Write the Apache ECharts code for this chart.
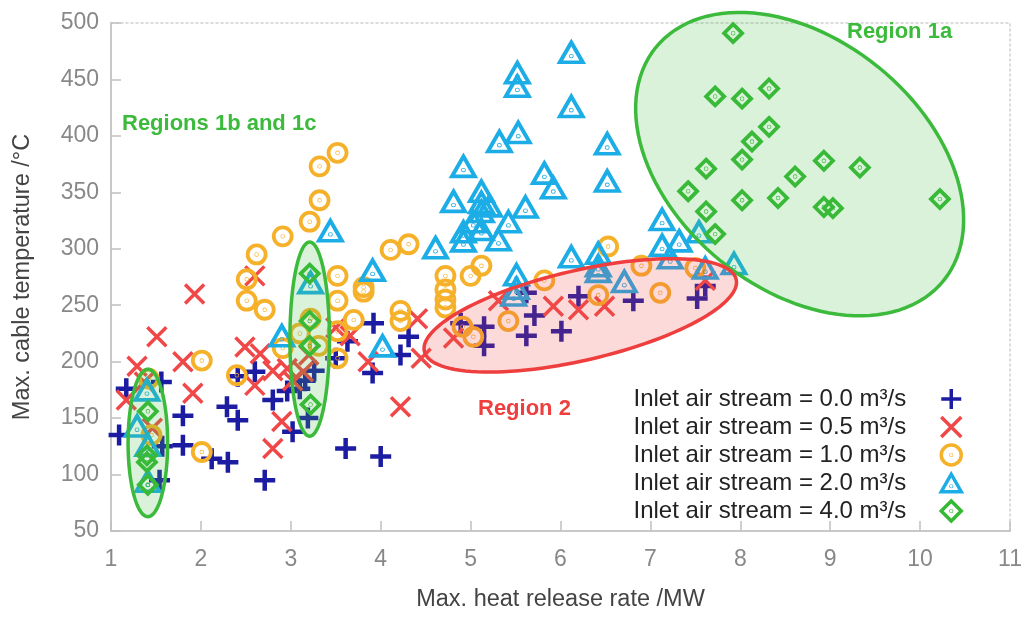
<!DOCTYPE html>
<html>
<head>
<meta charset="utf-8">
<script src="https://cdn.jsdelivr.net/npm/echarts@6/dist/echarts.min.js"></script>
<style>
  html, body { margin: 0; padding: 0; background: #fff; }
  #chart { width: 1025px; height: 617px; }
</style>
</head>
<body>
<div id="chart"></div>
<script>
// Max. heat release rate (MW), max. cable temperature (°C), per inlet air stream
const air00 = [[1.09,135],[1.17,176],[1.56,182],[1.57,125],[1.8,152],[1.8,126],[1.54,95],[2.12,114],[2.3,111],
  [2.29,160],[2.41,148],[2.41,187],[2.6,191],[2.71,95],[2.8,166],[2.96,174],[3.02,138],[3.92,234],[4.31,222],
  [4.22,206],[3.91,190],[3.16,183],[3.19,150],[3.5,203],[3.63,218],[3.61,123],[4.0,116],[4.89,234],[5.15,231],
  [5.15,214],[5.62,223],[5.71,241],[6.01,227],[6.2,258],[6.81,254],[7.52,256],[7.61,267],[5.62,261],[3.26,192],[3.1,176]];
const air05 = [[1.51,222],[1.29,196],[1.8,200],[1.91,172],[1.17,166],[1.46,141],[1.37,182],[2.49,213],[2.66,207],
  [2.6,179],[2.9,147],[2.8,123],[2.8,192],[3.02,183],[1.93,260],[2.6,276],[2.96,194],[3.14,191],[3.2,206],[3.5,230],
  [3.66,223],[3.86,200],[4.41,238],[4.45,203],[4.22,160],[4.81,221],[5.31,254],[5.92,249],[6.2,246],[6.49,249],[7.61,272]];
const air10 = [[3.52,385],[3.32,373],[3.32,343],[3.21,324],[2.91,311],[2.62,295],[2.51,273],[2.51,254],[2.71,246],
  [2.01,201],[2.01,120],[2.4,188],[3.52,276],[3.52,254],[3.81,262],[3.81,266],[4.11,299],[4.31,304],[3.7,237],
  [3.52,227],[3.52,203],[4.22,245],[4.22,236],[2.91,212],[3.1,225],[3.22,238],[3.31,214],[4.72,276],[4.72,264],
  [4.72,255],[4.72,248],[5.0,276],[5.12,285],[4.91,231],[5.03,222],[5.42,236],[5.82,272],[6.53,302],[6.9,285],
  [6.42,259],[7.11,261],[7.5,283],[1.45,135],[1.42,185]];
const air20 = [[6.12,474],[6.12,426],[5.52,456],[5.52,444],[5.53,403],[5.32,395],[6.52,393],[6.52,360],[4.92,373],
  [5.82,367],[5.92,354],[4.81,342],[5.12,351],[5.12,341],[5.21,338],[5.61,337],[5.42,324],[5.12,333],[5.03,324],
  [5.12,317],[4.92,315],[4.92,307],[5.31,308],[4.61,301],[6.12,293],[6.42,296],[6.42,285],[6.42,280],[6.71,271],
  [5.51,277],[5.51,265],[3.44,316],[3.91,281],[4.02,214],[3.22,270],[2.9,223],[1.4,175],[1.29,143],[1.41,126],
  [1.41,94],[7.13,326],[7.13,303],[7.32,307],[7.54,315],[7.22,292],[7.61,283],[7.93,287],[5.48,259]];
const air40 = [[7.92,491],[7.72,435],[8.02,433],[8.32,442],[8.32,408],[8.13,395],[8.02,379],[7.62,371],[7.42,351],
  [7.62,333],[8.02,343],[8.42,345],[8.61,364],[8.93,378],[9.33,372],[8.93,337],[9.03,336],[10.22,344],[7.72,313],
  [1.41,156],[1.4,117],[1.4,111],[1.41,91],[3.21,278],[3.21,236],[3.21,214],[3.22,162]];

const seriesNames = [
  'Inlet air stream = 0.0 m³/s',
  'Inlet air stream = 0.5 m³/s',
  'Inlet air stream = 1.0 m³/s',
  'Inlet air stream = 2.0 m³/s',
  'Inlet air stream = 4.0 m³/s'
];
const xTicks = [1, 2, 3, 4, 5, 6, 7, 8, 9, 10, 11];
const yTicks = [50, 100, 150, 200, 250, 300, 350, 400, 450, 500];

// regions: centre (MW, °C), semi-axes (in MW-scale units), tilt (deg)
const regionCentres = [[8.66, 375], [6.22, 241], [1.41, 128], [3.21, 220]];
const regionAxes = [[2.06, 1.39], [1.78, 0.5], [0.82, 0.22], [1.08, 0.22]];
const regionTilt = [39, -13, 90, 90];

const GREEN = '#3cba3c';
const RED = '#ef3e3e';
const narrow = "'Liberation Sans Narrow', 'Liberation Sans', Arial, sans-serif";
const sans = "'Liberation Sans', Arial, sans-serif";

const dot = 'M0.35,0A0.35,0.35,0,1,1,-0.35,0A0.35,0.35,0,1,1,0.35,0Z';
const triDot = 'M0.35,2A0.35,0.35,0,1,1,-0.35,2A0.35,0.35,0,1,1,0.35,2Z';
const symbols = [
  'path://M0,-10L0,10M-10,0L10,0',
  'path://M-10,-10L10,10M-10,10L10,-10',
  'path://M10,0A10,10,0,1,1,-10,0A10,10,0,1,1,10,0Z' + dot,
  'path://M0,-10L10,7.5L-10,7.5Z' + triDot,
  'path://M0,-10L10,0L0,10L-10,0Z' + dot
];
const colors = ['#1c1ca3', '#f04848', '#f6b12a', '#1cade6', '#35b935'];
const sizes = [21, 19, 18, [23, 20], 18];
const widths = [4.5, 3.5, 3.8, 3.8, 3.8];
const datasets = [air00, air05, air10, air20, air40];

const chart = echarts.init(document.getElementById('chart'));

function renderRegion(params, api) {
  const c = api.coord([api.value(0), api.value(1)]);
  const unit = api.size([1, 0])[0];
  const a = api.value(2) * unit;
  const b = api.value(3) * unit;
  const t = api.value(4) * Math.PI / 180;
  const pts = [];
  for (let i = 0; i < 120; i++) {
    const s = i / 120 * Math.PI * 2;
    const ex = a * Math.cos(s), ey = b * Math.sin(s);
    pts.push([c[0] + ex * Math.cos(t) - ey * Math.sin(t), c[1] + ex * Math.sin(t) + ey * Math.cos(t)]);
  }
  const red = params.dataIndex === 1;
  return {
    type: 'polygon',
    shape: { points: pts },
    style: {
      fill: red ? 'rgba(240,70,70,0.2)' : 'rgba(70,190,70,0.2)',
      stroke: red ? RED : GREEN,
      lineWidth: 3.5
    }
  };
}

const scatterSeries = datasets.map((d, i) => ({
  name: seriesNames[i],
  type: 'scatter',
  data: d,
  symbol: symbols[i],
  symbolSize: sizes[i],
  itemStyle: { color: 'rgba(0,0,0,0)', borderColor: colors[i], borderWidth: widths[i], opacity: 1 },
  silent: true,
  z: 3
}));

const option = {
  animation: false,
  backgroundColor: '#fff',
  grid: { left: 111, right: 15, top: 23, bottom: 84, containLabel: false },
  legend: {
    data: seriesNames,
    orient: 'vertical',
    right: 57,
    top: 382,
    align: 'right',
    itemWidth: 20,
    itemHeight: 20,
    itemGap: 4,
    itemStyle: { borderWidth: 3.5 },
    textStyle: { fontFamily: sans, fontSize: 24, lineHeight: 24, color: '#222', padding: [0, 30, 0, 0] }
  },
  xAxis: [{
    type: 'value', min: 1, max: 11, interval: 1,
    name: 'Max. heat release rate /MW', nameLocation: 'middle', nameGap: 57,
    nameTextStyle: { fontFamily: narrow, fontSize: 23.5, color: '#444' },
    axisLine: { lineStyle: { color: '#c8c8c8', width: 2 } },
    axisTick: { inside: true, length: 10, lineStyle: { color: '#c0c0c0', width: 1.5 } },
    axisLabel: { fontFamily: narrow, fontSize: 23, color: '#888', margin: 17,
      formatter: v => xTicks.includes(v) ? String(v) : '' },
    splitLine: { show: false }
  }, {
    type: 'value', position: 'top', min: 1, max: 11,
    axisLine: { show: true, lineStyle: { color: '#cfcfcf', width: 1.5, type: [2, 3] } },
    axisTick: { show: false }, axisLabel: { show: false }, splitLine: { show: false }
  }],
  yAxis: [{
    type: 'value', min: 50, max: 500, interval: 50,
    name: 'Max. cable temperature /°C', nameLocation: 'middle', nameGap: 76,
    nameTextStyle: { fontFamily: narrow, fontSize: 23.5, color: '#444' },
    axisLine: { show: true, lineStyle: { color: '#c8c8c8', width: 2 } },
    axisTick: { show: true, inside: true, length: 10, lineStyle: { color: '#c0c0c0', width: 1.5 } },
    axisLabel: { fontFamily: narrow, fontSize: 23, color: '#888', margin: 12,
      formatter: v => yTicks.includes(v) ? String(v) : '' },
    splitLine: { show: false }
  }, {
    type: 'value', position: 'right', min: 50, max: 500,
    axisLine: { show: true, lineStyle: { color: '#cfcfcf', width: 1.5, type: [2, 3] } },
    axisTick: { show: false }, axisLabel: { show: false }, splitLine: { show: false }
  }],
  graphic: [
    { type: 'text', left: 122, top: 113, z: 10,
      style: { text: 'Regions 1b and 1c', fontFamily: sans, fontWeight: 'bold', fontSize: 22, fill: GREEN } },
    { type: 'text', left: 847, top: 21, z: 10,
      style: { text: 'Region 1a', fontFamily: sans, fontWeight: 'bold', fontSize: 22, fill: GREEN } },
    { type: 'text', left: 478, top: 398, z: 10,
      style: { text: 'Region 2', fontFamily: sans, fontWeight: 'bold', fontSize: 22, fill: RED } }
  ],
  series: scatterSeries.concat([{
    type: 'custom',
    renderItem: renderRegion,
    data: regionCentres.map((c, i) => [c[0], c[1], regionAxes[i][0], regionAxes[i][1], regionTilt[i]]),
    encode: { x: 0, y: 1 },
    clip: false,
    silent: true,
    z: 5
  }])
};

chart.setOption(option);
</script>
</body>
</html>
